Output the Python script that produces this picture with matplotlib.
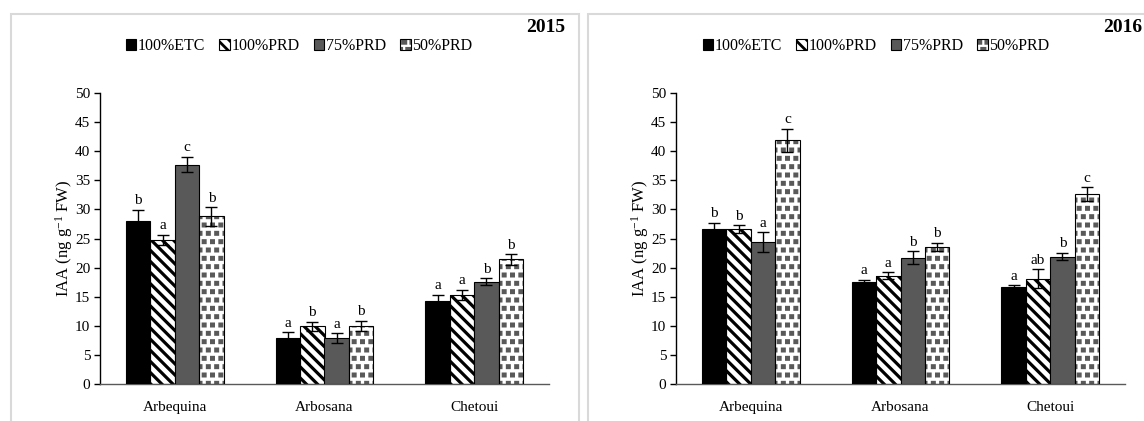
import numpy as np
import matplotlib.pyplot as plt
import matplotlib.hatch as mhatch
from matplotlib.path import Path
from matplotlib.patches import Rectangle, Patch

# Data (IAA, ng g-1 FW)
cultivars = ["Arbequina", "Arbosana", "Chetoui"]
treatments = ["100%ETC", "100%PRD", "75%PRD", "50%PRD"]

etc100_2015 = [28.0, 7.9, 14.2]
prd100_2015 = [24.7, 9.9, 15.3]
prd75_2015 = [37.7, 7.9, 17.6]
prd50_2015 = [28.8, 10.0, 21.4]
err_etc100_2015 = [1.9, 1.0, 1.1]
err_prd100_2015 = [0.9, 0.8, 0.9]
err_prd75_2015 = [1.3, 0.8, 0.6]
err_prd50_2015 = [1.6, 0.9, 0.9]
let_etc100_2015 = ["b", "a", "a"]
let_prd100_2015 = ["a", "b", "a"]
let_prd75_2015 = ["c", "a", "b"]
let_prd50_2015 = ["b", "b", "b"]

etc100_2016 = [26.7, 17.5, 16.6]
prd100_2016 = [26.6, 18.6, 18.1]
prd75_2016 = [24.4, 21.7, 21.9]
prd50_2016 = [41.9, 23.6, 32.6]
err_etc100_2016 = [1.0, 0.4, 0.4]
err_prd100_2016 = [0.7, 0.6, 1.6]
err_prd75_2016 = [1.7, 1.1, 0.6]
err_prd50_2016 = [2.0, 0.7, 1.2]
let_etc100_2016 = ["b", "a", "a"]
let_prd100_2016 = ["b", "a", "ab"]
let_prd75_2016 = ["a", "b", "b"]
let_prd50_2016 = ["c", "b", "c"]


# square dots instead of stars for the '*' hatch (Excel-like pattern fill)
class SquareDots(mhatch.Shapes):
    size = 0.2
    filled = True

    def __init__(self, hatch, density):
        self.num_rows = hatch.count('*') * density
        self.shape_vertices = np.array([[-1, -1], [1, -1], [1, 1], [-1, 1], [-1, -1]], float)
        self.shape_codes = np.array([Path.MOVETO, Path.LINETO, Path.LINETO, Path.LINETO, Path.CLOSEPOLY],
                                    dtype=Path.code_type)
        super().__init__(hatch, density)


mhatch._hatch_types[mhatch._hatch_types.index(mhatch.Stars)] = SquareDots

plt.rcParams['font.family'] = ['Liberation Serif', 'DejaVu Serif']
plt.rcParams['mathtext.fontset'] = 'custom'
plt.rcParams['mathtext.rm'] = 'Liberation Serif'
plt.rcParams['mathtext.it'] = 'Liberation Serif:italic'

faces = ["black", "white", "#595959", "white"]
hatches = [None, "\\\\\\", None, "**"]
hatch_cols = ["black", "black", "#595959", "#595959"]
hatch_lws = [1.0, 2.3, 1.0, 1.2]

fig = plt.figure(figsize=(11.44, 4.21), dpi=100)

# light grey chart-area frames
fig.patches.append(Rectangle((11 / 1144, -0.1), 568 / 1144, 1.1 - 14 / 421, transform=fig.transFigure,
                             fill=False, edgecolor="#d9d9d9", linewidth=1.5))
fig.patches.append(Rectangle((588 / 1144, -0.1), 0.6, 1.1 - 14 / 421, transform=fig.transFigure,
                             fill=False, edgecolor="#d9d9d9", linewidth=1.5))

panels = [
    ("2015", 100, [etc100_2015, prd100_2015, prd75_2015, prd50_2015],
     [err_etc100_2015, err_prd100_2015, err_prd75_2015, err_prd50_2015],
     [let_etc100_2015, let_prd100_2015, let_prd75_2015, let_prd50_2015], 11, 299),
    ("2016", 676, [etc100_2016, prd100_2016, prd75_2016, prd50_2016],
     [err_etc100_2016, err_prd100_2016, err_prd75_2016, err_prd50_2016],
     [let_etc100_2016, let_prd100_2016, let_prd75_2016, let_prd50_2016], 588, 876),
]

x = np.arange(len(cultivars))
w = 0.163

for year, left_px, vals, errs, lets, frame_px, leg_px in panels:
    ax = fig.add_axes([left_px / 1144, 37 / 421, 449 / 1144, 291 / 421])
    handles = []
    for i in range(4):
        pos = x + (i - 1.5) * w
        if hatches[i]:
            with plt.rc_context({"hatch.linewidth": hatch_lws[i]}):
                ax.bar(pos, vals[i], w, color=faces[i], edgecolor=hatch_cols[i], linewidth=0,
                       hatch=hatches[i], zorder=2)
            h = (Patch(facecolor=faces[i], edgecolor=hatch_cols[i], hatch=hatches[i], linewidth=0),
                 Patch(facecolor="none", edgecolor="black", linewidth=0.8))
        else:
            h = Patch(facecolor=faces[i], edgecolor="black", linewidth=0.8)
        handles.append(h)
        ax.bar(pos, vals[i], w, color=faces[i] if not hatches[i] else "none",
               edgecolor="black", linewidth=0.8, zorder=3)
        ax.errorbar(pos, vals[i], yerr=errs[i], fmt="none", ecolor="black",
                    elinewidth=1, capsize=4, capthick=1, zorder=4)
        for xp, v, e, t in zip(pos, vals[i], errs[i], lets[i]):
            ax.annotate(t, (xp, v + e), xytext=(0, 4), textcoords="offset points",
                        ha="center", va="baseline", fontsize=11)

    ax.set_xlim(-0.5, 2.5)
    ax.set_ylim(0, 50)
    ax.set_yticks(np.arange(0, 51, 5))
    ax.set_xticks(x)
    ax.set_xticklabels(cultivars, fontsize=11)
    ax.tick_params(axis="x", length=0, pad=12)
    ax.tick_params(axis="y", direction="out", length=4, width=1, labelsize=11, pad=3)
    ax.spines["top"].set_visible(False)
    ax.spines["right"].set_visible(False)
    ax.spines["left"].set_linewidth(1)
    ax.spines["bottom"].set_color("#595959")
    ax.spines["bottom"].set_linewidth(1)
    ax.set_ylabel(r"IAA (ng g$^{-1}$ FW)", fontsize=12, labelpad=0)
    ax.patch.set_alpha(0)

    with plt.rc_context({"hatch.linewidth": 2.0}):
        ax.legend(handles, treatments, loc="center", bbox_to_anchor=(leg_px / 1144, (421 - 46) / 421),
                  bbox_transform=fig.transFigure, ncol=4, frameon=False, fontsize=11.5,
                  handlelength=0.65, handleheight=0.65, handletextpad=0.1, columnspacing=0.9)

    fig.text((frame_px + 515) / 1144, (421 - 28) / 421, year, fontsize=14, fontweight="bold",
             ha="left", va="center")

plt.savefig("out.png", dpi=100)
